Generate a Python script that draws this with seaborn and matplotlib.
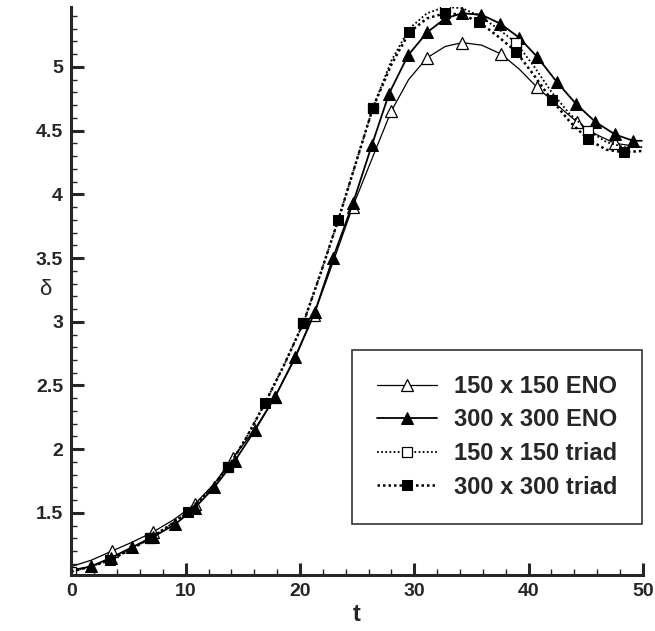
import numpy as np
import pandas as pd
import seaborn as sns
import matplotlib.pyplot as plt
from matplotlib.ticker import MultipleLocator, FormatStrFormatter

# values
t_eno150 = [0, 1.76, 3.52, 5.3, 7.13, 9.0, 10.8, 12.5, 14.1, 16.0, 17.8, 19.5, 21.2, 22.9,
            24.6, 26.3, 27.97, 29.5, 31.1, 32.7, 34.2, 35.9, 37.6, 39.2, 40.73, 42.5,
            44.2, 45.9, 47.55, 49.9]
d_eno150 = [1.08, 1.13, 1.20, 1.27, 1.35, 1.45, 1.57, 1.73, 1.93, 2.15, 2.41, 2.70, 3.05, 3.47,
            3.90, 4.28, 4.65, 4.90, 5.07, 5.16, 5.19, 5.17, 5.10, 4.98, 4.84, 4.70,
            4.57, 4.47, 4.40, 4.37]

t_eno300 = [0, 1.71, 3.5, 5.30, 7.1, 9.06, 10.8, 12.48, 14.31, 16.06, 17.81, 19.56, 21.31,
            22.88, 24.63, 26.30, 27.79, 29.45, 31.11, 32.7, 34.17, 35.84, 37.50, 39.16,
            40.73, 42.48, 44.14, 45.81, 47.55, 49.13, 49.9]
d_eno300 = [1.05, 1.08, 1.15, 1.23, 1.31, 1.41, 1.54, 1.70, 1.91, 2.15, 2.41, 2.72, 3.08,
            3.50, 3.93, 4.39, 4.79, 5.09, 5.27, 5.38, 5.42, 5.41, 5.34, 5.23,
            5.08, 4.88, 4.71, 4.57, 4.47, 4.42, 4.42]

t_triad = [0, 1.7, 3.38, 5.1, 6.87, 8.55, 10.23, 12.0, 13.73, 15.3, 16.93, 18.6, 20.29, 21.8,
           23.35, 24.9, 26.38, 28.0, 29.56, 31.1, 32.68, 34.2, 35.69, 37.3, 38.9, 40.5,
           42.02, 43.6, 45.22, 46.8, 48.35, 49.9]
d_triad150 = [1.04, 1.08, 1.13, 1.21, 1.30, 1.40, 1.51, 1.67, 1.86, 2.09, 2.36, 2.66, 2.99, 3.38,
              3.80, 4.25, 4.68, 5.05, 5.30, 5.42, 5.47, 5.46, 5.40, 5.30, 5.19, 5.00,
              4.80, 4.63, 4.50, 4.41, 4.37, 4.37]
d_triad300 = [1.04, 1.08, 1.13, 1.21, 1.30, 1.40, 1.51, 1.67, 1.86, 2.09, 2.36, 2.66, 2.99, 3.38,
              3.80, 4.25, 4.68, 5.02, 5.27, 5.38, 5.42, 5.41, 5.35, 5.24, 5.12, 4.93,
              4.74, 4.57, 4.43, 4.35, 4.33, 4.34]

labels = ['150 x 150 ENO', '300 x 300 ENO', '150 x 150 triad', '300 x 300 triad']

sns.set_style('ticks')
plt.rcParams['font.family'] = ['Liberation Sans', 'DejaVu Sans']
plt.rcParams['font.weight'] = 'bold'

fig = plt.figure(figsize=(6.55, 6.31), dpi=100)
ax = fig.add_axes([0.109, 0.0887, 0.8726, 0.9003])

sns.lineplot(x=t_eno150, y=d_eno150, ax=ax, color='k', lw=0.9, marker='^', ms=8,
             mfc='white', mec='k', mew=0.9, markevery=slice(2, None, 2), label=labels[0])
sns.lineplot(x=t_eno300, y=d_eno300, ax=ax, color='k', lw=1.3, marker='^', ms=8,
             mfc='k', mec='k', markevery=slice(1, -1), label=labels[1])
sns.lineplot(x=t_triad, y=d_triad150, ax=ax, color='k', lw=1.3, ls=(0, (1, 1.3)),
             marker='s', ms=7, mfc='white', mec='k', mew=0.9,
             markevery=slice(0, None, 4), label=labels[2])
sns.lineplot(x=t_triad, y=d_triad300, ax=ax, color='k', lw=1.8, ls=(0, (1, 1.2)),
             marker='s', ms=7, mfc='k', mec='k', markevery=slice(2, -1, 2), label=labels[3])

ax.set_xlim(0, 50)
ax.set_ylim(1.013, 5.47)
ax.xaxis.set_major_locator(MultipleLocator(10))
ax.xaxis.set_minor_locator(MultipleLocator(2))
ax.yaxis.set_major_locator(MultipleLocator(0.5))
ax.yaxis.set_minor_locator(MultipleLocator(0.1))
ax.yaxis.set_major_formatter(FormatStrFormatter('%g'))

sns.despine(ax=ax)
for s in ['left', 'bottom']:
    ax.spines[s].set_linewidth(2.2)
ax.tick_params(which='major', direction='in', length=9, width=2.2, labelsize=14, pad=6)
ax.tick_params(which='minor', direction='in', length=4.5, width=1)
for lab in ax.get_xticklabels() + ax.get_yticklabels():
    lab.set_fontweight('bold')

ax.set_xlabel('t', fontsize=17, fontweight='bold', labelpad=2)
ax.set_ylabel('δ', fontsize=16, rotation=0, fontweight='normal', va='center', ha='center')
ax.yaxis.set_label_coords(-0.046, 0.502)

leg = ax.legend(loc='upper left', bbox_to_anchor=(0.491, 0.396), borderaxespad=0,
                fontsize=17, frameon=True, fancybox=False, edgecolor='k',
                handlelength=2.55, handletextpad=0.7, labelspacing=0.45, borderpad=1.05)
leg.get_frame().set_linewidth(1.2)
for txt in leg.get_texts():
    txt.set_fontweight('bold')

fig.savefig('out.png', dpi=100)
